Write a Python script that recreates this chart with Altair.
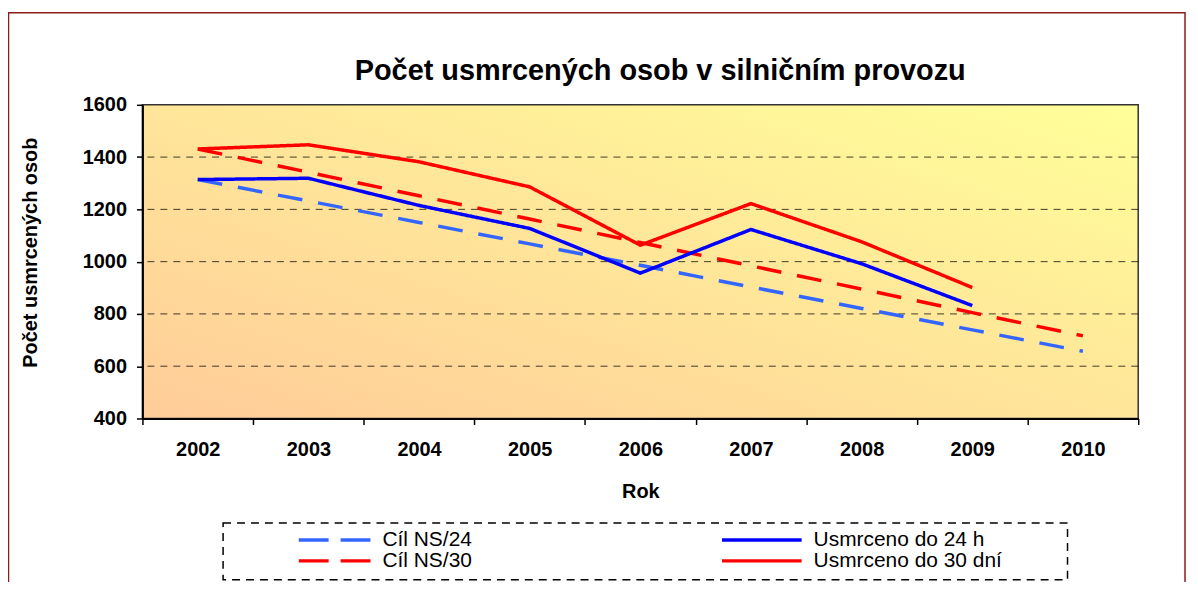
import altair as alt
import pandas as pd

title_text = "Počet usmrcených osob v silničním provozu"
years = ["2002", "2003", "2004", "2005", "2006", "2007", "2008", "2009", "2010"]
cil_ns24 = [1314, 1232, 1150, 1068, 986, 903, 821, 739, 657]
cil_ns30 = [1431, 1342, 1252, 1163, 1073, 984, 895, 805, 716]
usmrceno_24h = [1314, 1319, 1215, 1127, 956, 1123, 992, 832, None]
usmrceno_30d = [1431, 1447, 1382, 1286, 1063, 1222, 1076, 901, None]

series_names = ["Cíl NS/24", "Cíl NS/30", "Usmrceno do 24 h", "Usmrceno do 30 dní"]
series_values = [cil_ns24, cil_ns30, usmrceno_24h, usmrceno_30d]
series_colors = ["#3366FF", "#FF0000", "#0000FF", "#FF0000"]
series_dashes = [[25, 16], [25, 16], [1, 0], [1, 0]]
legend_dashes = [[30, 12], [30, 12], [1, 0], [1, 0]]
y_ticks = [400, 600, 800, 1000, 1200, 1400, 1600]
grid_values = [600, 800, 1000, 1200, 1400]

rows = []
for k, (name, vals) in enumerate(zip(series_names, series_values)):
    for yr, v in zip(years, vals):
        if v is not None:
            rows.append({"year": yr, "value": v, "series": name, "ord": k})
df = pd.DataFrame(rows)
grid_df = pd.DataFrame({"value": grid_values})

FONT = "Liberation Sans"
W, H = 1000, 315

x_enc = alt.X(
    "year:O",
    scale=alt.Scale(type="band", paddingInner=0, paddingOuter=0, domain=years),
    bandPosition=0.5,
    axis=alt.Axis(
        title="Rok", labelAngle=0, tickBand="extent", tickSize=6, tickColor="black",
        tickWidth=1.5, domainColor="black", domainWidth=2, labelFont=FONT,
        labelFontSize=20, labelFontWeight="bold", labelColor="black", labelPadding=15,
        titleFont=FONT, titleFontSize=20, titleFontWeight="bold", titleColor="black",
        titleY=73, titleBaseline="middle", grid=False, zindex=1,
    ),
)
y_enc = alt.Y(
    "value:Q",
    scale=alt.Scale(domain=[400, 1600], nice=False, zero=False),
    axis=alt.Axis(
        title="Počet usmrcených osob", values=y_ticks, format="d", tickSize=6,
        tickColor="black", tickWidth=1.5, domainColor="black", domainWidth=2,
        labelFont=FONT, labelFontSize=20, labelFontWeight="bold", labelColor="black",
        labelPadding=10, titleFont=FONT, titleFontSize=20, titleFontWeight="bold",
        titleColor="black", titleAngle=-90, titleX=-112, titleY=148,
        titleAlign="center", titleBaseline="middle", grid=False, zindex=1,
    ),
)

one = alt.Data(values=[{}])

background = alt.Chart(one).mark_rect(
    color=alt.LinearGradient(
        gradient="linear",
        stops=[alt.GradientStop(color="#FFCC99", offset=0),
               alt.GradientStop(color="#FFFF99", offset=1)],
        x1=0, y1=1, x2=1, y2=0,
    ),
    stroke="#333333", strokeWidth=1.5,
).encode(x=alt.value(0), x2=alt.value(W), y=alt.value(0), y2=alt.value(H))

grid = alt.Chart(grid_df).mark_rule(
    color="black", strokeDash=[7, 6], strokeWidth=1, opacity=0.75
).encode(y=y_enc)

lines = alt.Chart(df).mark_line(strokeWidth=3.5, strokeJoin="miter").encode(
    x=x_enc,
    y=y_enc,
    color=alt.Color("series:N", scale=alt.Scale(domain=series_names, range=series_colors),
                    legend=None),
    strokeDash=alt.StrokeDash("series:N",
                              scale=alt.Scale(domain=series_names, range=series_dashes),
                              legend=None),
    order=alt.Order("ord:Q"),
)

title_mark = alt.Chart(one).mark_text(
    text=title_text, font=FONT, fontSize=29, fontWeight="bold", color="black",
    align="center", baseline="alphabetic",
).encode(x=alt.value(520), y=alt.value(-25))

# legend: two columns (targets | actual values), two rows (24 h | 30 days)
legend_layers = []
col_sym_x = [157, 582]
col_sym_len = [72, 80]
col_text_gap = 12
row_y = [437, 458]
for i, name in enumerate(series_names):
    c, r = i // 2, i % 2
    x0 = col_sym_x[c]
    legend_layers.append(
        alt.Chart(one).mark_rule(
            color=series_colors[i], strokeDash=legend_dashes[i], strokeWidth=3.5
        ).encode(x=alt.value(x0), x2=alt.value(x0 + col_sym_len[c]), y=alt.value(row_y[r]))
    )
    legend_layers.append(
        alt.Chart(one).mark_text(
            text=name, font=FONT, fontSize=21, color="black", align="left",
            baseline="middle",
        ).encode(x=alt.value(x0 + col_sym_len[c] + col_text_gap), y=alt.value(row_y[r]))
    )

legend_box = alt.Chart(one).mark_rect(
    filled=False, color="black", strokeDash=[8, 6], strokeWidth=1.5
).encode(x=alt.value(81), x2=alt.value(929), y=alt.value(420), y2=alt.value(477))

outer_border = alt.Chart(one).mark_rect(
    filled=False, color="#8B1A1A", strokeWidth=1.5
).encode(x=alt.value(-134.5), x2=alt.value(1047), y=alt.value(-92.5), y2=alt.value(520))

chart = alt.layer(
    background, grid, lines, title_mark, *legend_layers, legend_box, outer_border
).properties(
    width=W, height=H,
    autosize=alt.AutoSizeParams(type="none"),
    padding={"left": 135, "top": 96, "right": 52, "bottom": 163},
).configure_view(strokeOpacity=0)

chart.save("out.html", embed_options={"renderer": "svg", "actions": False})
